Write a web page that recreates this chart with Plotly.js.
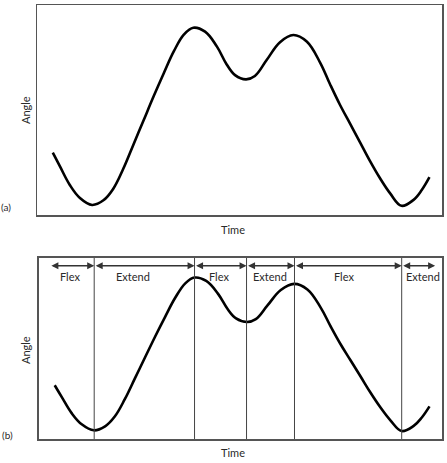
<!DOCTYPE html>
<html>
<head>
<meta charset="utf-8">
<script src="https://cdn.plot.ly/plotly-3.0.1.min.js"></script>
<style>html,body{margin:0;padding:0;background:#fff;}#chart{width:447px;height:463px;}</style>
</head>
<body>
<div id="chart"></div>
<script>
// Time (arbitrary units 0-100) and joint angle (arbitrary units 0-100)
const time = [3.9, 5.7, 8.1, 10.6, 13.6, 16.4, 18.8, 21.3, 23.8, 26.3, 28.8, 31.3, 33.8, 36.3, 38.6, 41.5, 44.4, 46.8, 48.9, 51.6, 53.8, 56.7, 60.0, 63.3, 66.6, 69.9, 72.3, 74.8, 77.3, 79.8, 82.2, 84.7, 87.2, 90.0, 92.9, 95.0, 96.9];
const angle = [29.7, 23.0, 14.3, 8.1, 4.8, 7.0, 12.4, 22.0, 33.5, 45.0, 56.5, 67.5, 78.0, 86.0, 89.2, 87.3, 80.3, 71.8, 66.6, 64.6, 66.2, 73.8, 82.3, 85.7, 82.6, 72.6, 62.5, 52.5, 43.5, 34.5, 25.8, 17.5, 10.3, 4.4, 7.1, 11.9, 18.0];

// Phase edges (time) for panel (b), and the phase names
const phaseEdges = [2.7, 13.7, 38.6, 51.5, 63.4, 90.0, 98.3];
const phaseNames = ["Flex", "Extend", "Flex", "Extend", "Flex", "Extend"];
const phaseLabelTimes = [7.6, 23.3, 44.7, 57.3, 75.8, 95.2];

const axisTitleX = "Time";
const axisTitleY = "Angle";
const panelTags = ["(a)", "(b)"];

const FONT = "Lato, 'Open Sans', sans-serif";
const TXT = "#2a2a2a";

const traces = [
  {x: time, y: angle, xaxis: "x", yaxis: "y", type: "scatter", mode: "lines",
   line: {color: "#000", width: 2.6, shape: "spline", smoothing: 1.1}, hoverinfo: "skip"},
  {x: time, y: angle, xaxis: "x2", yaxis: "y2", type: "scatter", mode: "lines",
   line: {color: "#000", width: 2.6, shape: "spline", smoothing: 1.1}, hoverinfo: "skip"}
];

const axBase = {range: [0, 100], showgrid: false, zeroline: false, showticklabels: false,
  ticks: "", showline: true, mirror: true, linecolor: "#555", linewidth: 1.5, fixedrange: true};

const shapes = [];
const annotations = [];

// vertical phase boundaries in panel (b)
for (let i = 1; i < phaseEdges.length - 1; i++) {
  shapes.push({type: "line", xref: "x2", yref: "y2", x0: phaseEdges[i], x1: phaseEdges[i],
    y0: 0, y1: 100, line: {color: "#444", width: 1}});
}
// double-headed arrows and labels
for (let i = 0; i < phaseNames.length; i++) {
  annotations.push({xref: "x2", yref: "y2", axref: "x2", ayref: "y2",
    x: phaseEdges[i + 1], y: 95.7, ax: phaseEdges[i], ay: 95.7, text: "",
    showarrow: true, arrowside: "end+start", arrowhead: 2, arrowsize: 1,
    arrowwidth: 1.4, arrowcolor: "#333", standoff: 0, startstandoff: 0});
  annotations.push({xref: "x2", yref: "y2", x: phaseLabelTimes[i], y: 89.7,
    text: phaseNames[i], showarrow: false, xanchor: "center", yanchor: "middle",
    font: {family: FONT, size: 11, color: TXT}});
}
// axis titles and panel tags
annotations.push({xref: "paper", yref: "paper", x: 0.485, y: 0.4816, text: axisTitleX,
  showarrow: false, xanchor: "center", yanchor: "middle", font: {family: FONT, size: 11, color: TXT}});
annotations.push({xref: "paper", yref: "paper", x: 0.485, y: -0.030, text: axisTitleX,
  showarrow: false, xanchor: "center", yanchor: "middle", font: {family: FONT, size: 11, color: TXT}});
annotations.push({xref: "paper", yref: "paper", x: -0.0296, y: 0.758, text: axisTitleY, textangle: -90,
  showarrow: false, xanchor: "center", yanchor: "middle", font: {family: FONT, size: 11, color: TXT}});
annotations.push({xref: "paper", yref: "paper", x: -0.0296, y: 0.205, text: axisTitleY, textangle: -90,
  showarrow: false, xanchor: "center", yanchor: "middle", font: {family: FONT, size: 11, color: TXT}});
annotations.push({xref: "paper", yref: "paper", x: -0.0765, y: 0.5346, text: panelTags[0],
  showarrow: false, xanchor: "center", yanchor: "middle", font: {family: FONT, size: 10, color: TXT}});
annotations.push({xref: "paper", yref: "paper", x: -0.074, y: 0.0092, text: panelTags[1],
  showarrow: false, xanchor: "center", yanchor: "middle", font: {family: FONT, size: 10, color: TXT}});

const layout = {
  width: 447, height: 463,
  margin: {l: 37, r: 5, t: 5, b: 24},
  paper_bgcolor: "#fff", plot_bgcolor: "#fff",
  showlegend: false,
  xaxis: Object.assign({}, axBase, {domain: [0, 1], anchor: "y"}),
  yaxis: Object.assign({}, axBase, {domain: [0.5161, 1], anchor: "x"}),
  xaxis2: Object.assign({}, axBase, {domain: [0.0049, 1], anchor: "y2"}),
  yaxis2: Object.assign({}, axBase, {domain: [0, 0.4171], anchor: "x2"}),
  shapes: shapes,
  annotations: annotations
};

Plotly.newPlot("chart", traces, layout, {staticPlot: true, displayModeBar: false});
</script>
</body>
</html>
